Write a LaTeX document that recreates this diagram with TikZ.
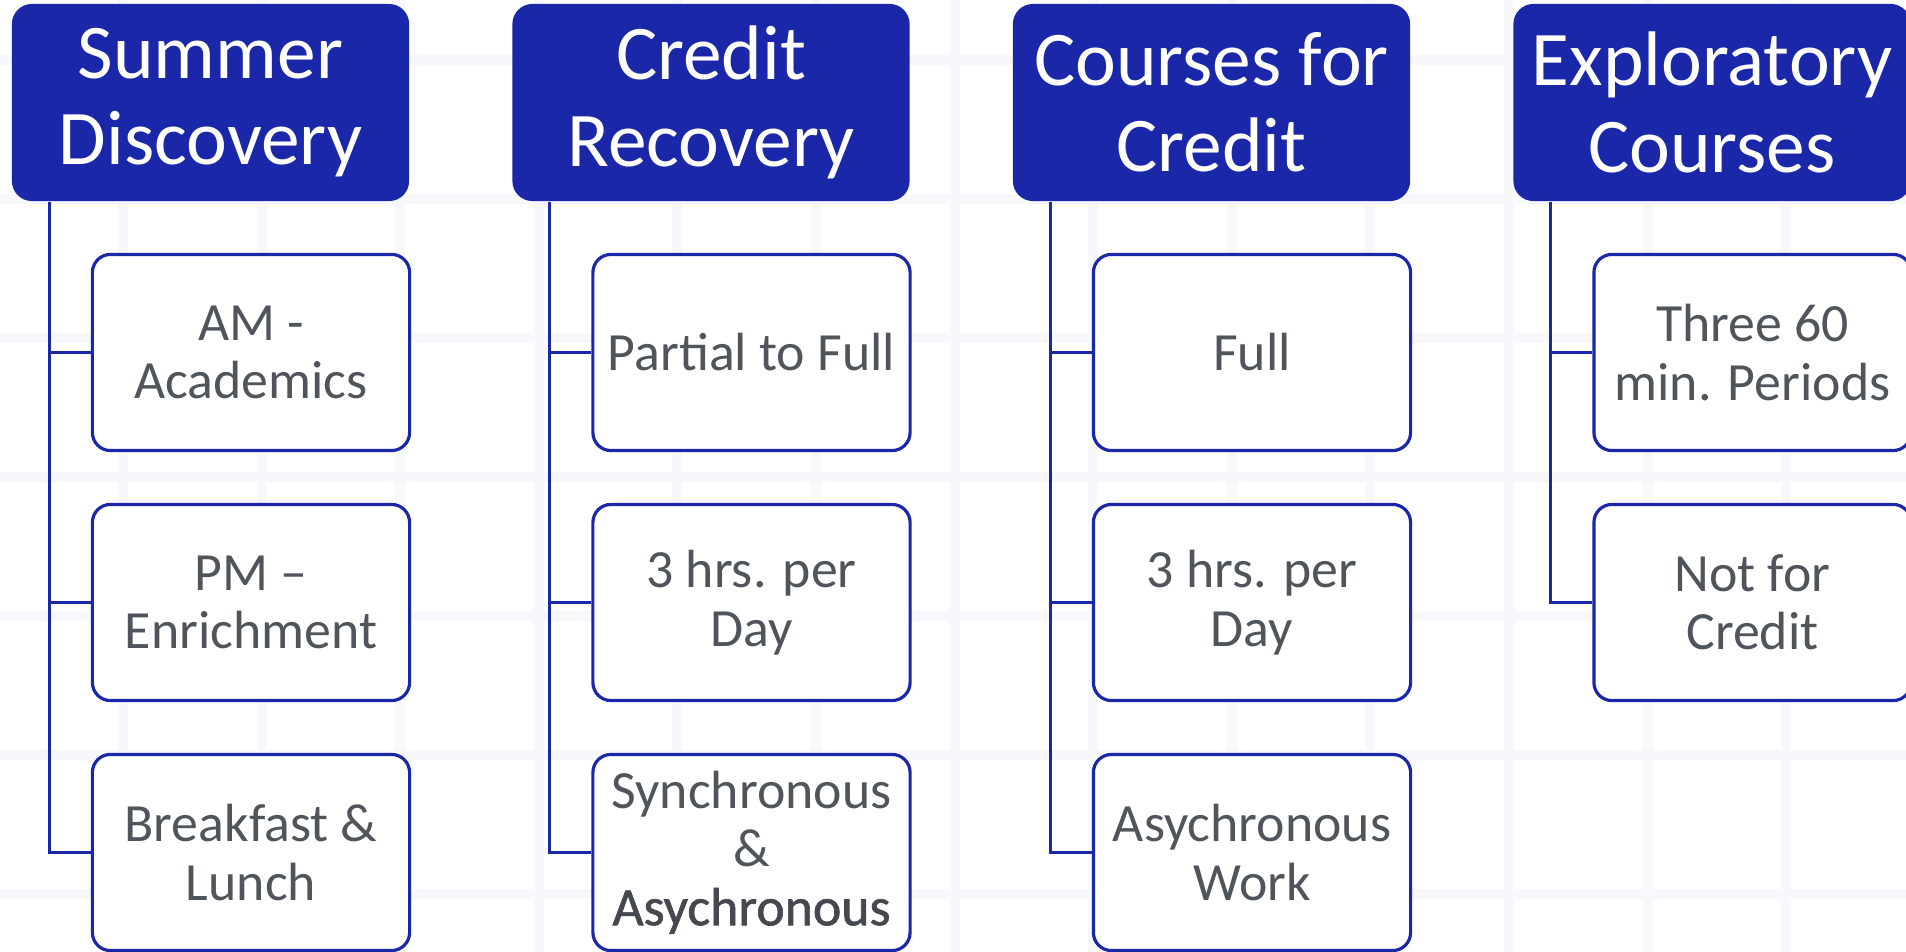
\documentclass[tikz,border=0pt]{standalone}
\usepackage{fontspec}
\setmainfont{Carlito}
\newfontfamily\darkfont[FakeBold=1.2]{Carlito}
\usepackage{xcolor}
\usepackage{tikz}
\usetikzlibrary{positioning}

\definecolor{headblue}{HTML}{1A27A8}
\definecolor{textgray}{HTML}{50545B}
\definecolor{darkgray}{HTML}{45494F}
\definecolor{gridline}{HTML}{F6F8FC}

\tikzset{
    head/.style={fill=headblue, rounded corners=0.2cm, minimum width=3.97cm, minimum height=1.97cm,
        inner sep=0pt, text=white, align=center, font=\fontsize{22}{24.6}\selectfont},
    item/.style={draw=headblue, line width=0.9pt, fill=white, rounded corners=0.18cm,
        minimum width=3.17cm, minimum height=1.96cm, inner sep=0pt, text=textgray,
        align=center, font=\fontsize{15.3}{16.6}\selectfont},
    link/.style={draw=headblue, line width=0.9pt},
}

\begin{document}
\begin{tikzpicture}[x=0.01cm, y=-0.01cm]
    \clip (0,0) rectangle (1906,952);
    \fill[white] (0,0) rectangle (1906,952);

    % Grid
    \foreach \gx in {0,...,12}
        \draw[gridline, line width=0.1cm] (123+138.6*\gx,0) -- ++(0,952);
    \foreach \gy in {0,...,6}
        \draw[gridline, line width=0.1cm] (0,60+139*\gy) -- ++(1906,0);

    % Headers
    \node[head] (head1) at (210.5,102.5) {Summer\\Discovery};
    \node[head] (head2) at (711,102.5) {Credit\\Recovery};
    \node[head] (head3) at (1211.5,102.5) {Courses for\\Credit};
    \node[head] (head4) at (1712,102.5) {Exploratory\\Courses};

    % Summer Discovery
    \node[item] (item11) at (251,352.5) {AM -\\Academics};
    \node[item] (item12) at (251,602.5) {PM --\\Enrichment};
    \node[item] (item13) at (251,852.5) {Breakfast \&\\Lunch};

    % Credit Recovery
    \node[item] (item21) at (751.5,352.5) {Partial to Full};
    \node[item] (item22) at (751.5,602.5) {3 hrs. per\\Day};
    \node[item] (item23) at (751.5,852.5) {Synchronous\\\&\\{\darkfont\color{darkgray}Asychronous}};

    % Courses for Credit
    \node[item] (item31) at (1252,352.5) {Full};
    \node[item] (item32) at (1252,602.5) {3 hrs. per\\Day};
    \node[item] (item33) at (1252,852.5) {Asychronous\\Work};

    % Exploratory Courses
    \node[item] (item41) at (1752.5,352.5) {Three 60\\min. Periods};
    \node[item] (item42) at (1752.5,602.5) {Not for\\Credit};

    % Connectors
    \foreach \col/\last in {1/3,2/3,3/3,4/2}
        \foreach \row in {1,...,\last}
            \draw[link] ([xshift=0.38cm]head\col.south west) |- (item\col\row.west);
\end{tikzpicture}
\end{document}
